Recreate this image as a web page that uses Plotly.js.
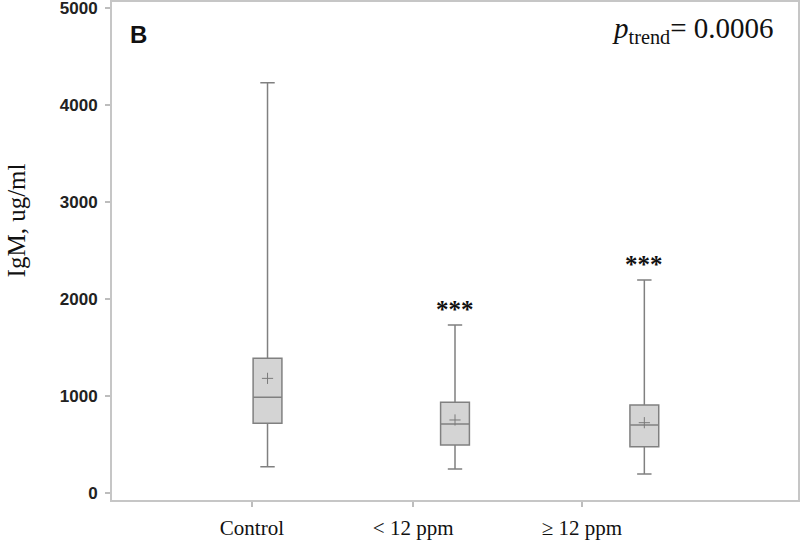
<!DOCTYPE html>
<html>
<head>
<meta charset="utf-8">
<script src="https://cdn.plot.ly/plotly-3.0.1.min.js"></script>
<style>html,body{margin:0;padding:0;background:#fff;}#chart{width:800px;height:542px;}</style>
</head>
<body>
<div id="chart"></div>
<script>
// Data
var groups = ["Control", "< 12 ppm", "\u2265 12 ppm"];
var lowerWhisker = [271, 247, 196];
var q1Values = [719, 495, 477];
var medianValues = [987, 711, 701];
var q3Values = [1389, 935, 907];
var upperWhisker = [4230, 1732, 2196];
var meanValues = [1182, 753, 725];
var significance = ["", "***", "***"];
var yTicks = [0, 1000, 2000, 3000, 4000, 5000];
var pTrendText = "<i>p</i><sub>trend</sub>= 0.0006";
var panelLabel = "B";

// layout positions (axis units)
var boxPos = [2.267, 5.0, 7.76];
var labelPos = [2.04, 4.39, 6.85];

var traces = [];
for (var i = 0; i < groups.length; i++) {
  traces.push({
    type: "box",
    x: [boxPos[i]],
    q1: [q1Values[i]],
    median: [medianValues[i]],
    q3: [q3Values[i]],
    lowerfence: [lowerWhisker[i]],
    upperfence: [upperWhisker[i]],
    width: 0.42,
    whiskerwidth: 0.5,
    boxpoints: false,
    fillcolor: "#d4d4d4",
    line: {color: "#808080", width: 1.5},
    hoverinfo: "skip",
    showlegend: false,
    name: groups[i]
  });
}
traces.push({
  type: "scatter",
  mode: "markers",
  x: boxPos,
  y: meanValues,
  marker: {symbol: "cross-thin", size: 8, line: {color: "#7a7a7a", width: 1}},
  hoverinfo: "skip",
  showlegend: false
});

var annotations = [
  {xref: "paper", yref: "paper", x: 0.024, y: 0.935, xanchor: "left", yanchor: "middle",
   text: panelLabel, showarrow: false,
   font: {family: "Liberation Sans, Arial, sans-serif", size: 24, color: "#111", weight: "bold"}},
  {xref: "paper", yref: "paper", x: 0.968, y: 0.944, xanchor: "right", yanchor: "middle",
   text: pTrendText, showarrow: false,
   font: {family: "Liberation Serif, Times New Roman, serif", size: 29, color: "#111"}},
  {xref: "paper", yref: "paper", x: -0.1395, y: 0.562, xanchor: "center", yanchor: "middle",
   text: "IgM, ug/ml", textangle: -90, showarrow: false, borderpad: 0,
   font: {family: "Liberation Serif, Times New Roman, serif", size: 25, color: "#111"}}
];
for (var j = 0; j < groups.length; j++) {
  if (significance[j]) {
    annotations.push({
      x: boxPos[j], y: upperWhisker[j], xref: "x", yref: "y",
      xanchor: "center", yanchor: "bottom", yshift: 0,
      text: "<b>" + significance[j] + "</b>", showarrow: false,
      font: {family: "Liberation Serif, Times New Roman, serif", size: 25, color: "#111"}
    });
  }
}

var layout = {
  width: 800, height: 542,
  margin: {l: 112, r: 2, t: 2, b: 42},
  paper_bgcolor: "#fff", plot_bgcolor: "#fff",
  showlegend: false,
  xaxis: {
    range: [0, 10], showgrid: false, zeroline: false,
    showline: true, mirror: true, linecolor: "#c6c6c6", linewidth: 2,
    ticks: "outside", ticklen: 5, tickcolor: "#bdbdbd", tickwidth: 1.5,
    tickvals: labelPos, ticktext: groups, ticklabelstandoff: 3,
    ticklabeloverflow: "allow",
    tickfont: {family: "Liberation Serif, Times New Roman, serif", size: 21, color: "#111"}
  },
  yaxis: {
    range: [-72, 5062], showgrid: false, zeroline: false,
    showline: true, mirror: true, linecolor: "#c6c6c6", linewidth: 2,
    ticks: "outside", ticklen: 5, tickcolor: "#bdbdbd", tickwidth: 1.5,
    tickvals: yTicks, ticktext: yTicks.map(String), ticklabelstandoff: 4,
    ticklabeloverflow: "allow",
    tickfont: {family: "Liberation Sans, Arial, sans-serif", size: 17, color: "#222", weight: "bold"}
  },
  annotations: annotations
};

Plotly.newPlot("chart", traces, layout, {staticPlot: true, displayModeBar: false});
</script>
</body>
</html>
